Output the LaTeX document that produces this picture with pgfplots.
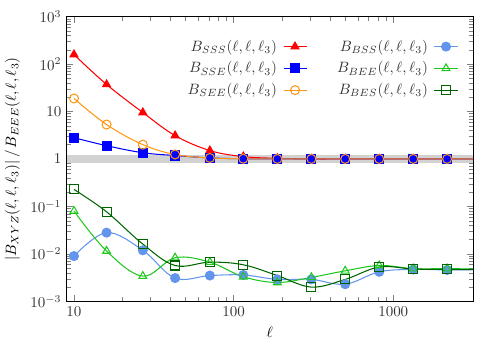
\documentclass[border=0pt]{standalone}
\usepackage{pgfplots}
\pgfplotsset{compat=1.18}
\definecolor{cSSS}{RGB}{255,0,0}
\definecolor{cSSE}{RGB}{0,0,255}
\definecolor{cSEE}{RGB}{255,150,20}
\definecolor{cBSS}{RGB}{100,149,237}
\definecolor{cBEE}{RGB}{30,200,30}
\definecolor{cBES}{RGB}{0,100,0}
\begin{document}
\begin{tikzpicture}
  \begin{axis}[
    scale only axis,
    width=271pt, height=190pt,
    xmode=log, ymode=log,
    xmin=9, xmax=3160,
    ymin=1e-3, ymax=1e3,
    xtick={10,100,1000},
    xticklabels={10,100,1000},
    ytick={1e-3,1e-2,1e-1,1,10,100,1000},
    yticklabels={$10^{-3}$,$10^{-2}$,$10^{-1}$,$1$,$10$,$10^{2}$,$10^{3}$},
    tick align=inside,
    xlabel={$\ell$},
    ylabel={$|B_{XYZ}(\ell,\ell,\ell_3)|\,/\,B_{EEE}(\ell,\ell,\ell_3)$},
    every tick label/.style={black!80},
    legend columns=2,
    legend plot pos=right,
    legend cell align=right,
    legend image code/.code={
      \draw[mark indices={2}, sharp plot] plot coordinates {(0cm,0cm) (0.27cm,0cm) (0.54cm,0cm)};
    },
    legend style={draw=none, fill=none, at={(0.975,0.94)}, anchor=north east,
      row sep=1.5pt, text=black!80,
      /tikz/every odd column/.append style={column sep=2pt},
      /tikz/every even column/.append style={column sep=18pt}},
    every axis plot/.append style={mark size=3pt, line width=0.7pt, smooth, tension=0.6},
  ]

  % bande grise a y=1
  \addplot[gray!35, line width=5pt, no marks, sharp plot, forget plot] coordinates {(9,1) (3160,1)};

  % S S S
  \addplot[cSSS, mark=triangle*, mark indices={1,...,12}] coordinates {
    (10,158) (16,37) (27,9.5) (43,3.1) (71,1.5) (115,1.12) (188,1.03)
    (307,1.0) (500,1.0) (817,1.0) (1334,1.0) (2175,1.0) (3160,1.0)
  };
  \addlegendentry{$B_{SSS}(\ell,\ell,\ell_3)$}

  % B S S
  \addplot[cBSS, mark=*, mark indices={1,...,12}] coordinates {
    (10,0.009) (16,0.028) (27,0.0119) (43,0.0031) (71,0.0035) (115,0.0036)
    (188,0.0029) (307,0.0029) (500,0.0023) (817,0.0042) (1334,0.0047) (2175,0.0046) (3160,0.0046)
  };
  \addlegendentry{$B_{BSS}(\ell,\ell,\ell_3)$}

  % S S E
  \addplot[cSSE, mark=square*, mark indices={1,...,12}] coordinates {
    (10,2.8) (16,1.9) (27,1.35) (43,1.18) (71,1.05) (115,1.01) (188,1.0)
    (307,1.0) (500,1.0) (817,1.0) (1334,1.0) (2175,1.0) (3160,1.0)
  };
  \addlegendentry{$B_{SSE}(\ell,\ell,\ell_3)$}

  % B E E
  \addplot[cBEE, mark=triangle, mark indices={1,...,12}] coordinates {
    (10,0.08) (16,0.0115) (27,0.0034) (43,0.0083) (71,0.0067) (115,0.0033)
    (188,0.0025) (307,0.0032) (500,0.0044) (817,0.0057) (1334,0.0049) (2175,0.0049) (3160,0.0048)
  };
  \addlegendentry{$B_{BEE}(\ell,\ell,\ell_3)$}

  % S E E
  \addplot[cSEE, mark=o, mark indices={1,...,12}] coordinates {
    (10,18.8) (16,5.3) (27,2.0) (43,1.24) (71,1.05) (115,1.01) (188,1.0)
    (307,1.0) (500,1.0) (817,1.0) (1334,1.0) (2175,1.0) (3160,1.0)
  };
  \addlegendentry{$B_{SEE}(\ell,\ell,\ell_3)$}

  % B E S
  \addplot[cBES, mark=square, mark indices={1,...,12}] coordinates {
    (10,0.228) (16,0.077) (27,0.0161) (43,0.0057) (71,0.0067) (115,0.0059)
    (188,0.0035) (307,0.0020) (500,0.0029) (817,0.0053) (1334,0.0048) (2175,0.0047) (3160,0.0047)
  };
  \addlegendentry{$B_{BES}(\ell,\ell,\ell_3)$}

  \end{axis}
  \path ([xshift=18pt]current axis.east);
  \path ([yshift=11pt]current axis.north);
\end{tikzpicture}
\end{document}
